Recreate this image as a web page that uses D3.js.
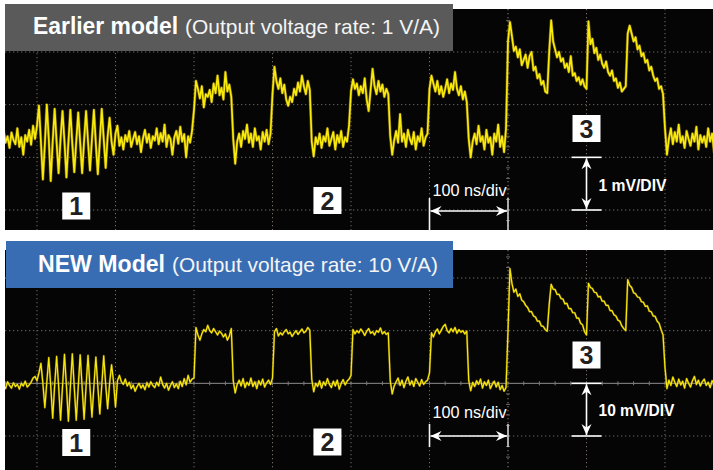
<!DOCTYPE html>
<html><head><meta charset="utf-8">
<script src="https://cdn.jsdelivr.net/npm/d3@7"></script>
<style>
body{margin:0;background:#fff;}
svg{display:block;font-family:"Liberation Sans",Arial,Helvetica,sans-serif;}
</style>
</head><body>
<svg id="chart" width="713" height="470"></svg>
<script>
// ---------- DATA ----------
// Sample timing of the scope traces (ns); 100 ns per horizontal division
const sampleStart = -650;
const sampleStep = 2.5;

// Earlier model trace (mV), 1 mV/div
const earlierTrace = [
  0.30,0.45,0.22,0.51,0.28,0.40,0.18,0.47,0.33,0.25,0.55,0.20,0.38,0.05,0.42,0.30,0.52,0.24,0.60,0.35,
  0.60,0.98,0.30,-0.42,0.25,1.00,0.35,-0.45,0.30,0.92,0.28,-0.30,0.35,0.88,0.30,-0.38,0.28,0.90,0.25,-0.28,
  0.30,0.85,0.28,-0.30,0.32,0.88,0.30,-0.25,0.35,0.90,0.25,-0.32,0.30,0.92,0.35,-0.20,0.40,0.75,0.30,0.05,
  0.45,0.60,0.22,0.38,0.15,0.42,0.30,0.50,0.20,0.35,0.48,0.25,0.40,0.10,0.36,0.52,0.28,0.44,0.18,0.40,
  0.32,0.55,0.25,0.46,0.30,0.62,0.20,0.42,0.35,0.05,0.38,0.50,0.26,0.58,0.30,0.44,0.00,0.40,0.28,0.50,
  0.90,1.45,1.30,1.12,1.35,0.95,1.20,1.15,1.28,1.05,1.40,1.22,1.55,1.18,1.32,1.10,1.62,1.25,1.38,1.15,
  0.35,-0.12,0.30,0.45,0.20,0.50,0.35,0.62,0.28,0.45,0.20,0.55,0.32,0.40,0.15,0.48,0.30,0.52,0.25,0.45,
  1.20,1.72,1.45,1.30,1.50,1.22,1.38,1.10,0.98,1.15,1.05,1.30,1.18,1.42,1.25,1.55,1.35,1.20,1.45,1.28,
  0.30,0.02,0.38,0.25,0.45,0.18,0.40,0.30,0.55,0.22,0.35,0.48,0.15,0.42,0.28,0.50,0.20,0.38,0.30,0.60,
  1.25,1.48,1.30,1.40,1.18,1.35,1.22,1.50,1.10,0.88,1.28,1.68,1.35,1.20,1.45,1.25,1.38,1.15,1.30,1.20,
  0.40,0.05,0.32,0.50,0.28,0.82,0.30,0.45,0.20,0.52,0.35,0.25,0.48,0.15,0.40,0.30,0.55,0.22,0.38,0.45,
  1.30,1.55,1.40,1.25,1.45,1.20,1.35,1.15,1.30,1.48,1.22,1.40,1.28,1.62,1.30,1.18,1.35,1.10,1.25,1.05,
  0.35,0.00,0.30,0.45,0.25,0.60,0.30,0.40,0.15,0.52,0.28,0.38,0.05,0.45,0.30,0.62,0.20,0.40,0.10,0.55,
  2.20,2.57,2.30,2.02,2.10,1.90,2.05,1.75,1.85,1.95,1.70,1.92,2.00,1.65,1.72,1.50,1.58,1.38,1.45,1.25,
  1.22,2.00,2.60,2.20,2.05,1.90,2.00,1.82,1.88,1.70,1.78,1.62,1.92,1.55,1.60,1.45,1.52,1.38,1.48,1.35,
  1.30,2.58,2.15,2.25,1.98,2.08,1.85,1.95,1.78,1.70,1.82,1.62,1.55,1.65,1.45,1.50,1.32,1.42,1.25,1.30,
  1.35,2.35,2.50,2.35,2.20,2.28,2.05,2.12,1.92,1.98,1.80,1.85,1.65,1.72,1.55,1.45,1.50,1.30,1.35,1.20,
  0.55,0.05,0.35,0.55,0.25,0.48,0.30,0.62,0.28,0.40,0.18,0.50,0.35,0.22,0.45,0.30,0.58,0.15,0.42,0.28,
  0.40,0.20,0.55,0.30,0.45,0.10,0.38,0.50,0.25,0.42,0.30,0.48,0.22,0.40,0.35,0.50,0.28,0.44,0.32,0.40
];

// NEW model trace (mV), 10 mV/div
const newTrace = [
  -0.5,0.2,-0.8,-0.2,-1.0,0.3,-0.4,-0.9,0.1,-0.6,-0.2,-1.1,0.0,-0.5,0.4,-0.7,-0.3,0.2,1.0,1.3,
  0.5,2.0,3.8,0.0,-4.6,0.2,4.9,-0.5,-6.6,-0.3,5.1,-0.4,-7.0,-0.6,5.5,-0.5,-7.2,-0.7,5.6,-0.8,
  -7.0,-0.8,5.4,-0.7,-6.8,-0.6,5.3,-0.8,-6.4,-0.5,5.0,-0.6,-5.8,-0.4,5.2,-0.2,-4.8,0.0,3.5,0.3,
  -4.5,0.5,1.5,0.3,-0.2,0.8,-0.5,0.2,-1.0,-0.3,-1.5,-0.6,0.0,-0.9,-0.3,-1.2,0.1,-0.7,0.3,-0.4,
  -0.8,0.2,-0.5,1.2,-0.2,-0.9,0.0,-1.3,-0.4,0.3,-0.8,-0.1,-1.0,0.4,-0.6,0.9,-0.3,1.5,0.2,0.8,
  1.0,10.6,9.2,8.2,9.4,10.2,9.8,11.0,10.0,9.6,10.4,9.8,9.2,9.9,9.5,8.8,9.4,8.2,9.0,10.4,
  0.5,-1.8,-0.2,0.6,-0.5,0.9,-0.8,0.2,-0.4,1.0,-0.6,0.3,-1.0,0.5,-0.3,0.8,-0.7,0.1,0.6,-0.2,
  1.0,9.8,10.4,9.0,9.6,9.2,9.8,10.2,9.4,9.7,8.9,9.5,10.0,9.3,9.8,10.3,9.6,9.9,10.6,10.1,
  0.8,-1.6,0.0,-0.6,0.5,-0.9,0.3,-0.4,0.9,-0.2,-0.8,0.4,-0.5,0.6,-1.1,0.0,0.7,-0.3,0.4,0.8,
  1.5,10.2,9.4,10.0,9.6,10.3,9.8,9.1,9.9,10.4,9.5,9.8,9.2,10.0,9.7,10.5,9.4,9.8,9.3,9.6,
  0.5,-2.0,-0.5,0.3,1.0,-0.4,0.6,-0.8,0.4,1.2,-0.3,0.5,-0.6,0.9,0.2,-0.5,0.7,-0.2,0.3,0.6,
  2.0,9.6,8.8,9.8,10.3,9.4,10.1,10.8,11.2,10.0,9.6,10.4,9.8,10.6,9.5,10.2,9.7,10.0,9.4,9.9,
  0.5,-1.4,0.2,-0.6,0.5,-0.2,0.8,-0.9,0.3,-0.4,0.6,-1.0,-0.2,0.4,-0.7,0.2,-1.2,-0.4,-1.5,-0.8,
  10.0,21.8,19.0,17.3,17.9,16.5,17.0,15.8,15.5,14.8,14.4,13.6,13.6,12.8,12.6,11.8,11.8,10.9,10.8,10.2,
  9.9,15.0,18.8,17.9,17.8,16.9,16.9,16.1,16.0,15.1,15.2,14.2,14.2,13.4,13.4,12.4,12.4,11.4,11.1,9.8,
  9.2,19.0,18.2,18.0,17.3,17.2,16.4,16.5,15.6,15.6,14.8,14.8,13.8,13.8,13.0,12.8,12.0,11.8,10.9,10.4,
  10.0,19.7,18.6,18.2,17.2,17.0,16.4,16.3,15.5,15.4,14.6,14.7,13.7,13.6,12.8,12.7,11.8,11.4,10.2,9.2,
  3.0,-1.0,0.6,-0.4,1.2,0.2,-0.6,0.8,-0.3,0.4,-0.9,0.9,0.0,-0.7,0.5,1.3,-0.2,0.6,-0.5,0.3,
  0.8,-0.4,0.2,-0.8,0.5,-0.1,1.0,-0.6,0.3,-0.3,0.6,-0.5,0.2,-0.2,0.4,-0.7,0.1,0.5,-0.3,0.2
];

// Grid divisions
const gridTimes = [-600,-500,-400,-300,-200,-100,0,100,200];   // ns
const earlierDivs = [-1,0,1,2];                                 // mV
const newDivs = [-10,0,10,20];                                  // mV

// Texts
const titleBold = ["Earlier model", "NEW Model"];
const titleRest = ["(Output voltage rate: 1 V/A)", "(Output voltage rate: 10 V/A)"];
const markerLabels = ["1","2","3"];
const markerTimes = [-550,-230,100];   // ns, where the numbered boxes sit
const timeScaleLabel = "100 ns/div";
const voltScaleLabels = ["1 mV/DIV","10 mV/DIV"];
const voltDiv = [1, 10];               // mV per division

// ---------- DRAW ----------
const svg = d3.select("#chart");
const x = d3.scaleLinear().domain([-600, 200]).range([37, 665]);

const panels = [
  { trace: earlierTrace, divs: earlierDivs, y: d3.scaleLinear().domain([-1,2]).range([210,52]),
    top: 9, bottom: 230, box: {x:5,y:4,w:448,h:47,fill:"#5a5a5a"}, tb:{x:33,y:34,w:145}, tr:{x:185,w:255},
    markerY: [206, 200.5, 128.5], centerSolid: false, timeY: 211, timeTick:[198,230], timeTextY:196,
    voltTextY: 191, voltTextW: 68, core:1.7, glow:3.0 },
  { trace: newTrace, divs: newDivs, y: d3.scaleLinear().domain([-10,20]).range([436,278]),
    top: 250, bottom: 470, box: {x:6,y:241,w:447,h:47,fill:"#386db3"}, tb:{x:38,y:272,w:127}, tr:{x:172,w:266},
    markerY: [442.5, 442, 355], centerSolid: true, timeY: 436, timeTick:[424,447], timeTextY:418,
    voltTextY: 416, voltTextW: 76, core:1.2, glow:2.2 }
];

const defs = svg.append("defs");

panels.forEach((p, pi) => {
  const g = svg.append("g");
  const y = p.y;
  // black screen
  g.append("rect").attr("x",5).attr("y",p.top).attr("width",708).attr("height",p.bottom-p.top).attr("fill","#050505");

  defs.append("clipPath").attr("id","clip"+pi).append("rect")
    .attr("x",5).attr("y",p.top).attr("width",708).attr("height",p.bottom-p.top);
  const scr = g.append("g").attr("clip-path",`url(#clip${pi})`);

  // grid
  scr.selectAll(".vg").data(gridTimes).join("line")
    .attr("x1",d=>x(d)).attr("x2",d=>x(d)).attr("y1",p.top).attr("y2",p.bottom)
    .attr("stroke", d => d===0 ? "#8a817c" : "#74665f").attr("stroke-width",1)
    .attr("stroke-dasharray","1.3,2.7");
  scr.selectAll(".hg").data(p.divs).join("line")
    .attr("x1",5).attr("x2",713).attr("y1",d=>y(d)).attr("y2",d=>y(d))
    .attr("stroke", d => (d===0 && p.centerSolid) ? "#8d8d8d" : "#74665f").attr("stroke-width",1)
    .attr("stroke-dasharray", d => (d===0 && p.centerSolid) ? null : "1.3,2.7");

  // minor ticks on centre axes
  const yDom = y.domain(), step = (yDom[1]-yDom[0])/15;
  const yMinor = d3.range(yDom[0]-step*2, yDom[1]+step*4, step);
  scr.selectAll(".ty").data(yMinor).join("line")
    .attr("x1",x(0)-2).attr("x2",x(0)+2).attr("y1",d=>y(d)).attr("y2",d=>y(d))
    .attr("stroke","#6f6662").attr("stroke-width",1);
  if (p.centerSolid) {
    const xMinor = d3.range(-640, 270, 20);
    scr.selectAll(".tx").data(xMinor).join("line")
      .attr("x1",d=>x(d)).attr("x2",d=>x(d)).attr("y1",y(0)-2).attr("y2",y(0)+2)
      .attr("stroke","#7d7d7d").attr("stroke-width",1);
  }

  // trace
  const line = d3.line().x((d,i)=>x(sampleStart + i*sampleStep)).y(d=>y(d));
  scr.append("path").attr("d",line(p.trace)).attr("fill","none")
    .attr("stroke","#a3860e").attr("stroke-width",p.glow).attr("stroke-opacity",0.6).attr("stroke-linejoin","round");
  scr.append("path").attr("d",line(p.trace)).attr("fill","none")
    .attr("stroke","#f8ea0a").attr("stroke-width",p.core).attr("stroke-linejoin","round");

  // numbered boxes
  markerLabels.forEach((lab, k) => {
    const cx = x(markerTimes[k]), cy = p.markerY[k];
    g.append("rect").attr("x",cx-14).attr("y",cy-13.5).attr("width",28).attr("height",27).attr("fill","#fff");
    g.append("text").attr("x",cx).attr("y",cy+9).attr("text-anchor","middle")
      .attr("font-size",25).attr("font-weight","bold").attr("fill","#231f20").text(lab);
  });

  // time scale annotation (one division)
  const xa = x(-100), xb = x(0);
  [xa, xb].forEach((xx, k) => g.append("line").attr("x1",xx).attr("x2",xx)
      .attr("y1",p.timeTick[0]).attr("y2",p.timeTick[1])
      .attr("stroke", k===0 ? "#f4f4f4" : "#cfcfcf").attr("stroke-width",1.6));
  drawArrow(g, xa+1, p.timeY, xb-1, p.timeY);
  g.append("text").attr("x",xa+3).attr("y",p.timeTextY).attr("font-size",16).attr("fill","#fff")
    .attr("textLength",74).attr("lengthAdjust","spacingAndGlyphs").text(timeScaleLabel);

  // voltage scale annotation (one division)
  const xv = x(100);
  const ya = y(0), yb = y(-voltDiv[pi]);
  [ya, yb].forEach(yy => g.append("line").attr("x1",xv-15).attr("x2",xv+15).attr("y1",yy).attr("y2",yy)
      .attr("stroke","#fff").attr("stroke-width",1.6));
  drawArrow(g, xv, ya+1, xv, yb-1);
  g.append("text").attr("x",xv+12).attr("y",p.voltTextY).attr("font-size",16.5).attr("font-weight","bold")
    .attr("fill","#fff").attr("textLength",p.voltTextW).attr("lengthAdjust","spacingAndGlyphs").text(voltScaleLabels[pi]);

  // title box
  g.append("rect").attr("x",p.box.x).attr("y",p.box.y).attr("width",p.box.w).attr("height",p.box.h).attr("fill",p.box.fill);
  g.append("text").attr("x",p.tb.x).attr("y",p.tb.y).attr("font-size",23).attr("font-weight","bold")
    .attr("fill","#fff").attr("textLength",p.tb.w).attr("lengthAdjust","spacingAndGlyphs").text(titleBold[pi]);
  g.append("text").attr("x",p.tr.x).attr("y",p.tb.y).attr("font-size",21)
    .attr("fill","#f4f4f4").attr("textLength",p.tr.w).attr("lengthAdjust","spacingAndGlyphs").text(titleRest[pi]);
});

function drawArrow(g, x1, y1, x2, y2) {
  g.append("line").attr("x1",x1).attr("y1",y1).attr("x2",x2).attr("y2",y2)
    .attr("stroke","#fff").attr("stroke-width",1.6);
  head(x1, y1, x1-x2, y1-y2);
  head(x2, y2, x2-x1, y2-y1);
  function head(tx, ty, dx, dy) {
    const L = Math.hypot(dx, dy), ux = dx/L, uy = dy/L, nx = -uy, ny = ux;
    const len = 11, hw = 5, notch = 7.5;
    const pts = [[tx,ty],
      [tx-ux*len+nx*hw, ty-uy*len+ny*hw],
      [tx-ux*notch, ty-uy*notch],
      [tx-ux*len-nx*hw, ty-uy*len-ny*hw]];
    g.append("path").attr("d","M"+pts.map(p=>p.join(",")).join("L")+"Z").attr("fill","#fff");
  }
}
</script>
</body></html>
